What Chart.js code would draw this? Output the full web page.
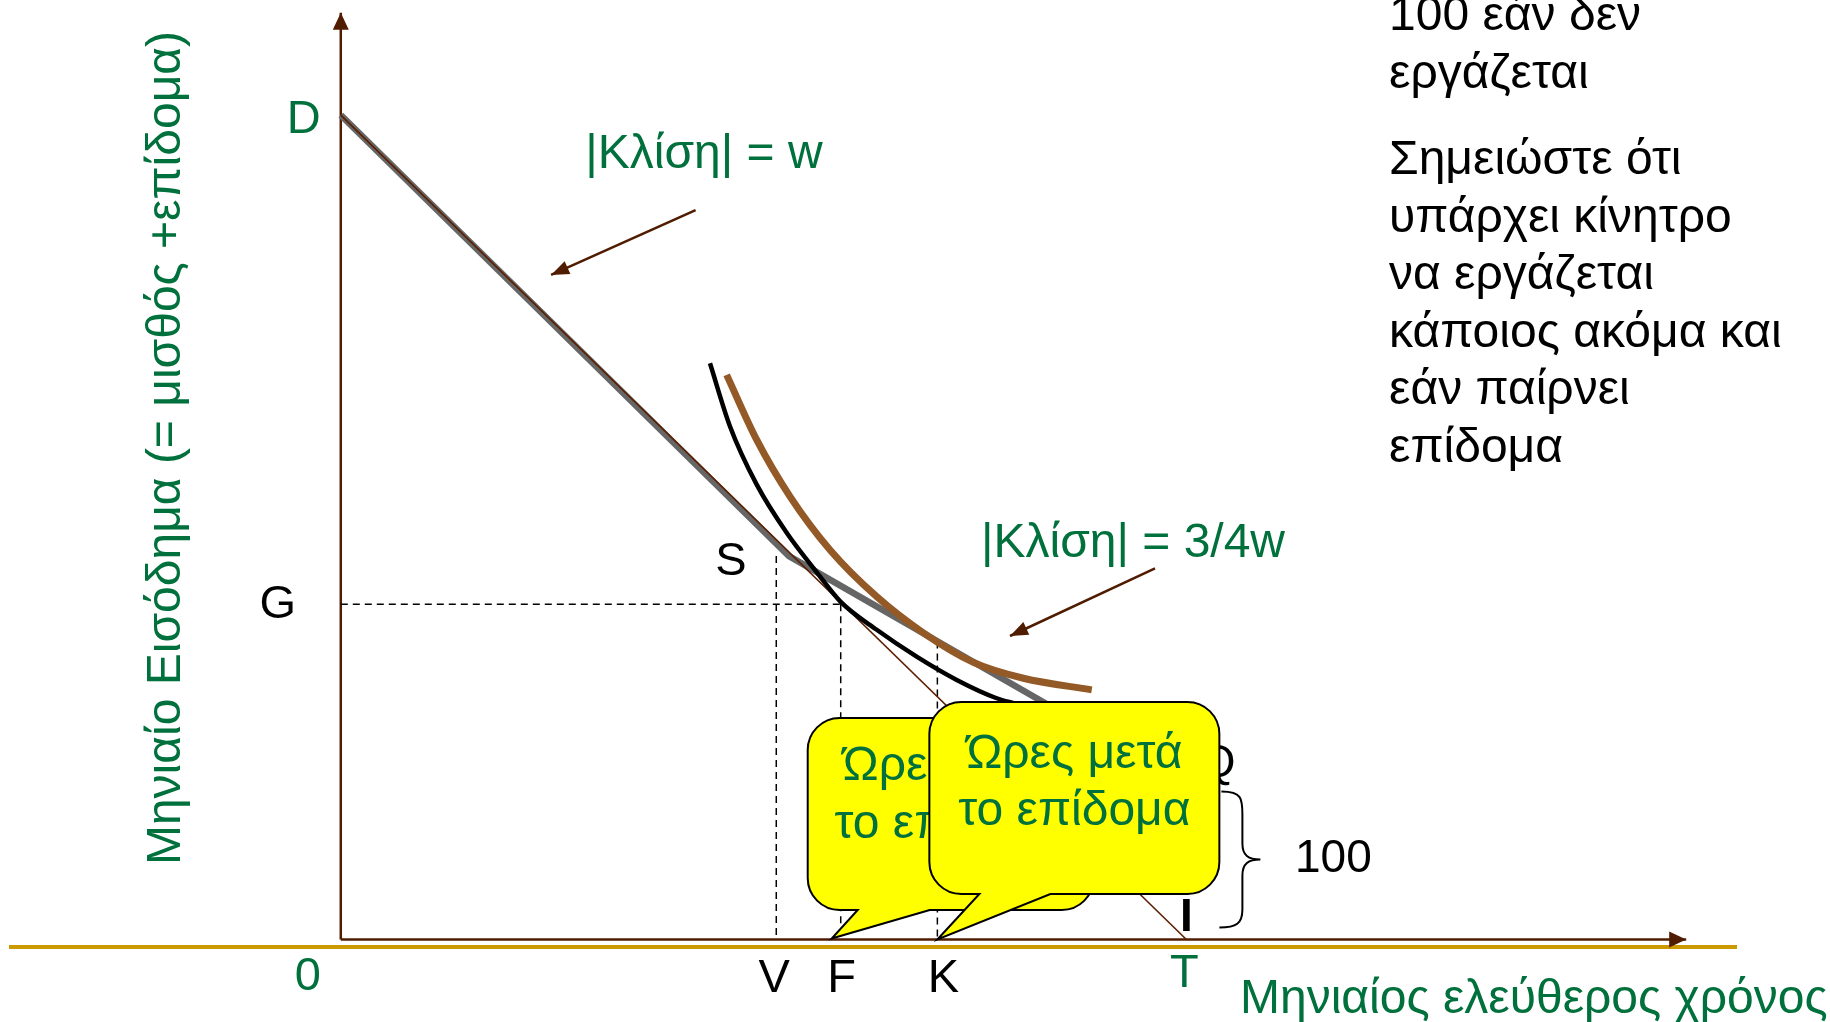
<!DOCTYPE html>
<html>
<head>
<meta charset="utf-8">
<script src="https://cdn.jsdelivr.net/npm/chart.js@4.4.0/dist/chart.umd.min.js"></script>
<style>
  html, body { margin: 0; padding: 0; background: #fff; }
  canvas { display: block; }
</style>
</head>
<body>
<canvas id="leisureChart" width="1830" height="1022"></canvas>
<script>
/* global Chart */

// free time on x, monthly income on y (benefit QT = 100)
let axisX = [0, 159.1];
let axisY = [0, 597];

// budget line without benefit, D -> T
let budgetX = [0, 100];
let budgetY = [531, 0];

// budget line with benefit, D -> S -> Q
let kinkX = [0, 53, 100];
let kinkY = [531, 247, 100];

// indifference curves
let lowCurveX = [43.66, 46.03, 49.19, 52.73, 56.29, 59.12, 63.38, 68.1, 72.84, 77.57, 79.8];
let lowCurveY = [371.2, 330.5, 293, 262, 236.5, 217.5, 199.5, 182.2, 167.2, 155.4, 151.9];
let highCurveX = [45.63, 49.19, 53.13, 57.86, 63.38, 68.89, 74.81, 80.72, 88.81];
let highCurveY = [363.7, 321.8, 285.3, 250.9, 220.8, 197.5, 178.5, 168.3, 160.8];

// marked points
let pointS = [53, 247];
let pointV = [51.5, 247];
let pointF = [59.12, 216];
let pointK = [70.55, 192];
let pointQ = [100, 100];
let pointT = [100, 0];
let pointD = [0, 531];

// slope arrows
let arrowWX = [41.96, 24.87];
let arrowWY = [469.9, 428.1];
let arrow34X = [96.29, 79.14];
let arrow34Y = [239.1, 195.5];

let sideText = ["100 εάν δεν", "εργάζεται", "", "Σημειώστε ότι", "υπάρχει κίνητρο",
  "να εργάζεται", "κάποιος ακόμα και", "εάν παίρνει", "επίδομα"];

const GREEN = "#00703c";
const AXIS = "#4f1c00";
const FONT = "'Liberation Sans', Arial, sans-serif";

function pts(xs, ys) {
  return xs.map((x, i) => ({ x: x, y: ys[i] }));
}

function line(label, data, color, width, extra) {
  return Object.assign({
    label: label,
    data: data,
    showLine: true,
    borderColor: color,
    borderWidth: width,
    pointRadius: 0,
    fill: false,
  }, extra || {});
}

let datasets = [
  line("high", pts(highCurveX, highCurveY), "#935a27", 7, { cubicInterpolationMode: "monotone" }),
  line("low", pts(lowCurveX, lowCurveY), "#000000", 4.5, { cubicInterpolationMode: "monotone" }),
  line("budget", pts(budgetX, budgetY), "#5a1e00", 1.6),
  line("kink", pts(kinkX, kinkY), "#666666", 6.5, { borderJoinStyle: "miter" }),
  line("G", [{ x: 0, y: pointF[1] }, { x: pointF[0], y: pointF[1] }], "#000", 1.5, { borderDash: [7, 5] }),
  line("F", [{ x: pointF[0], y: pointF[1] }, { x: pointF[0], y: 0 }], "#000", 1.5, { borderDash: [7, 5] }),
  line("V", [{ x: pointV[0], y: pointV[1] }, { x: pointV[0], y: 0 }], "#000", 1.5, { borderDash: [7, 5] }),
  line("K", [{ x: pointK[0], y: pointK[1] }, { x: pointK[0], y: 0 }], "#000", 1.5, { borderDash: [7, 5] }),
  line("arrowW", pts(arrowWX, arrowWY), AXIS, 2.5, { arrow: [18, 7] }),
  line("arrow34", pts(arrow34X, arrow34Y), AXIS, 2.5, { arrow: [18, 7] }),
  line("xaxis", [{ x: axisX[0], y: 0 }, { x: axisX[1], y: 0 }], AXIS, 2.5, { arrow: [17, 8] }),
  line("yaxis", [{ x: 0, y: axisY[0] }, { x: 0, y: axisY[1] }], AXIS, 2.5, { arrow: [17, 8] }),
];

function text(c, str, x, y, color, size, align, bold) {
  c.font = (bold ? "bold " : "") + size + "px " + FONT;
  c.fillStyle = color;
  c.textAlign = align || "center";
  c.fillText(str, x, y);
}

function callout(c, left, top, w, h, baseL, baseR, tipX, tipY) {
  const r = 32, right = left + w, bottom = top + h;
  c.beginPath();
  c.moveTo(left + r, top);
  c.arcTo(right, top, right, bottom, r);
  c.arcTo(right, bottom, left, bottom, r);
  c.lineTo(baseR, bottom);
  c.lineTo(tipX, tipY);
  c.lineTo(baseL, bottom);
  c.arcTo(left, bottom, left, top, r);
  c.arcTo(left, top, right, top, r);
  c.closePath();
  c.fillStyle = "#ffff00";
  c.fill();
  c.strokeStyle = "#000";
  c.lineWidth = 2;
  c.stroke();
}

const slidePlugin = {
  id: "slide",
  beforeDatasetsDraw(chart) {
    const c = chart.ctx;
    c.save();
    c.strokeStyle = "#cc9900";
    c.lineWidth = 4;
    c.beginPath();
    c.moveTo(9, 947);
    c.lineTo(1737, 947);
    c.stroke();
    c.restore();
  },
  afterDatasetsDraw(chart) {
    const c = chart.ctx;
    const sx = chart.scales.x, sy = chart.scales.y;
    const X = (v) => sx.getPixelForValue(v);
    const Y = (v) => sy.getPixelForValue(v);
    c.save();

    // arrow heads
    chart.data.datasets.forEach((ds, i) => {
      if (!ds.arrow) return;
      const el = chart.getDatasetMeta(i).data;
      const a = el[el.length - 2], b = el[el.length - 1];
      const ang = Math.atan2(b.y - a.y, b.x - a.x);
      const len = ds.arrow[0], hw = ds.arrow[1];
      c.fillStyle = ds.borderColor;
      c.beginPath();
      c.moveTo(b.x, b.y);
      c.lineTo(b.x - len * Math.cos(ang) + hw * Math.sin(ang), b.y - len * Math.sin(ang) - hw * Math.cos(ang));
      c.lineTo(b.x - len * Math.cos(ang) - hw * Math.sin(ang), b.y - len * Math.sin(ang) + hw * Math.cos(ang));
      c.closePath();
      c.fill();
    });

    c.textBaseline = "middle";
    text(c, "D", X(pointD[0]) - 37, Y(pointD[1]) + 5, GREEN, 47);
    text(c, "G", X(0) - 63, Y(pointF[1]) + 1, "#000", 47);
    text(c, "S", X(pointS[0]) - 58, Y(pointS[1]) + 6, "#000", 47);
    text(c, "0", X(0) - 33, Y(0) + 38, GREEN, 47);
    text(c, "V", X(pointV[0]) - 2, Y(0) + 40, "#000", 47);
    text(c, "F", X(pointF[0]) + 1, Y(0) + 40, "#000", 47);
    text(c, "K", X(pointK[0]) + 6, Y(0) + 40, "#000", 47);
    text(c, "T", X(pointT[0]) - 2, Y(0) + 35, GREEN, 47);
    text(c, "Q", X(pointQ[0]) + 31, Y(pointQ[1]) - 20, "#000", 47);

    c.textBaseline = "alphabetic";
    text(c, "|Κλίση| = w", 704, 168, GREEN, 48);
    text(c, "|Κλίση| = 3/4w", 1133, 557, GREEN, 48);

    // speech bubbles
    const tip1 = X(pointF[0]) - 9, tip2 = X(pointK[0]);
    callout(c, tip1 - 24, 718, 286, 192, tip1 + 26, tip1 + 98, tip1, Y(0) - 1);
    text(c, "Ώρες πριν", tip1 + 119, 780, GREEN, 48);
    text(c, "το επίδομα", tip1 + 119, 838, GREEN, 48);
    callout(c, tip2 - 8, 702, 290, 192, tip2 + 42, tip2 + 113, tip2, Y(0));
    text(c, "Ώρες μετά", tip2 + 137, 768, GREEN, 48);
    text(c, "το επίδομα", tip2 + 137, 825, GREEN, 48);

    // I mark, brace and 100
    const tx = X(pointT[0]), ty = Y(0);
    c.textBaseline = "middle";
    text(c, "I", tx, ty - 21, "#000", 46, "center", true);
    c.strokeStyle = "#000";
    c.lineWidth = 2;
    c.beginPath();
    c.moveTo(tx + 35, ty - 148);
    c.bezierCurveTo(tx + 56, ty - 148, tx + 56, ty - 140, tx + 56, ty - 125);
    c.lineTo(tx + 56, ty - 96);
    c.bezierCurveTo(tx + 56, ty - 84, tx + 62, ty - 80, tx + 74, ty - 80);
    c.bezierCurveTo(tx + 62, ty - 80, tx + 56, ty - 76, tx + 56, ty - 64);
    c.lineTo(tx + 56, ty - 30);
    c.bezierCurveTo(tx + 56, ty - 16, tx + 50, ty - 12, tx + 33, ty - 12);
    c.stroke();
    text(c, "100", tx + 147, ty - 80, "#000", 46);

    // axis titles
    c.textBaseline = "alphabetic";
    text(c, "Μηνιαίος ελεύθερος χρόνος", 1240, 1013, GREEN, 48, "left");
    c.save();
    c.translate(180, 448);
    c.rotate(-Math.PI / 2);
    text(c, "Μηνιαίο Εισόδημα (= μισθός +επίδομα)", 0, 0, GREEN, 48, "center");
    c.restore();

    // note on the right
    let yy = 30;
    sideText.forEach((s) => {
      if (s === "") { yy += 29; return; }
      text(c, s, 1389, yy, "#000", 48, "left");
      yy += 57.5;
    });
    c.restore();
  },
};

new Chart(document.getElementById("leisureChart").getContext("2d"), {
  type: "scatter",
  data: { datasets: datasets },
  options: {
    responsive: false,
    animation: false,
    devicePixelRatio: 1,
    layout: { padding: 0 },
    plugins: { legend: { display: false }, tooltip: { enabled: false } },
    scales: {
      x: { type: "linear", display: false, min: -40.3, max: 176.11 },
      y: { type: "linear", display: false, min: -53.15, max: 605.2 },
    },
  },
  plugins: [slidePlugin],
});
</script>
</body>
</html>
